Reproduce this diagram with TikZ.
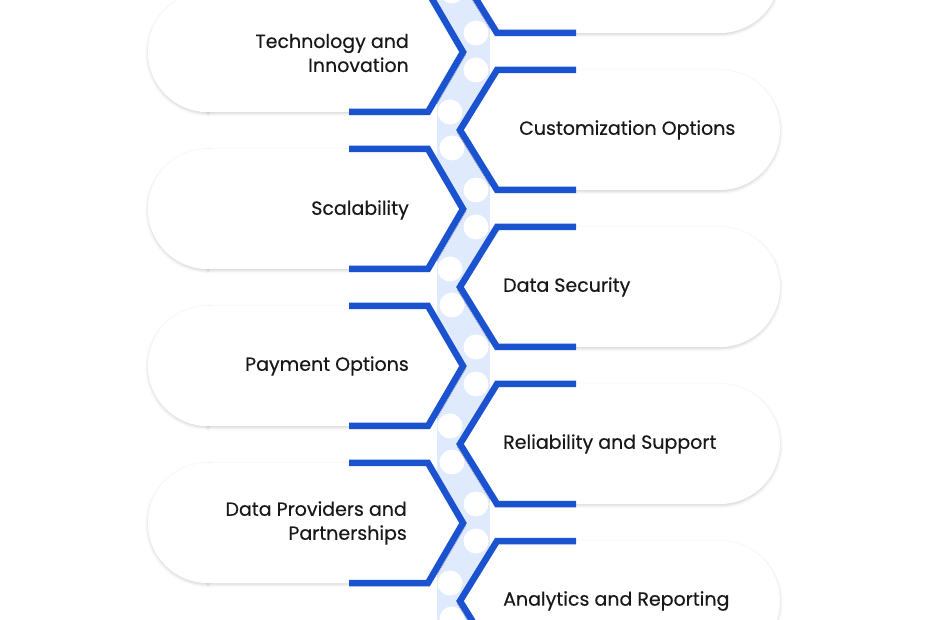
\documentclass[tikz,border=0pt]{standalone}
\usepackage{fontspec}
\setmainfont{Poppins}
\newfontfamily\itemfont{Poppins}[FakeBold=0.35]
\usetikzlibrary{shadows.blur}

\definecolor{chevblue}{RGB}{26,82,208}
\definecolor{bandblue}{RGB}{224,234,253}
\definecolor{inkgrey}{RGB}{24,24,24}

\tikzset{
  pill/.style={fill=white, blur shadow={shadow xshift=0pt, shadow yshift=-1.5pt,
      shadow blur radius=3pt, shadow opacity=18}},
  rim/.style={draw=chevblue, line width=6.5pt, line join=miter},
  knob/.style={fill=white},
  itemtext/.style={font=\itemfont\fontsize{19}{24}\selectfont, text=inkgrey, inner sep=0pt},
  lefttext/.style={itemtext, anchor=east, align=right},
  righttext/.style={itemtext, anchor=west, align=left}
}

\begin{document}
\begin{tikzpicture}[x=1pt, y=-1pt]
  \useasboundingbox (0,0) rectangle (930,620);
  \clip (0,0) rectangle (930,620);
  % light blue strip behind the chevrons
  \fill[bandblue] (437,0) rectangle (490,620);
  % white knobs biting into the strip
  \foreach \y in {-27,130,287,444,601}
  {
    \fill[knob] (450,\y-18) circle (12.5);
    \fill[knob] (452,\y+18) circle (12.5);
  }
  \foreach \y in {52,209,366,523}
  {
    \fill[knob] (476,\y-19) circle (12.5);
    \fill[knob] (476,\y+18) circle (12.5);
  }
  % left pills
  \foreach \y in {52,209,366,523}
  {
    \path[pill] (463,\y) -- (428,\y-60) -- (208,\y-60) -- (208,\y+60)
      -- (428,\y+60) -- cycle;
    \path[pill] (208,\y+60) arc[start angle=90, end angle=270, radius=60] -- cycle;
    \fill[white] (463,\y) -- (428,\y-60) -- (208,\y-60) arc[start angle=270, end angle=90, radius=60]
      -- (428,\y+60) -- cycle;
    \draw[rim] (349,\y-60) -- (428,\y-60) -- (463,\y) -- (428,\y+60) -- (349,\y+60);
  }
  % right pills
  \foreach \y in {-27,130,287,444,601}
  {
    \path[pill] (460,\y) -- (497,\y-60) -- (720,\y-60)
      arc[start angle=-90, end angle=90, radius=60] -- (497,\y+60) -- cycle;
    \draw[rim] (576,\y-60) -- (497,\y-60) -- (460,\y) -- (497,\y+60) -- (576,\y+60);
  }
  % labels
  \node[lefttext] (tech) at (409,53) {Technology and\\Innovation};
  \node[lefttext] (scale) at (409,210) {Scalability};
  \node[lefttext] (pay) at (409,366) {Payment Options};
  \node[lefttext] (provid) at (407,523) {Data Providers and\\Partnerships};
  \node[righttext] (custom) at (519,130) {Customization Options};
  \node[righttext] (secur) at (503,287) {Data Security};
  \node[righttext] (reli) at (503,444) {Reliability and Support};
  \node[righttext] (analyt) at (503,601) {Analytics and Reporting};
\end{tikzpicture}
\end{document}
